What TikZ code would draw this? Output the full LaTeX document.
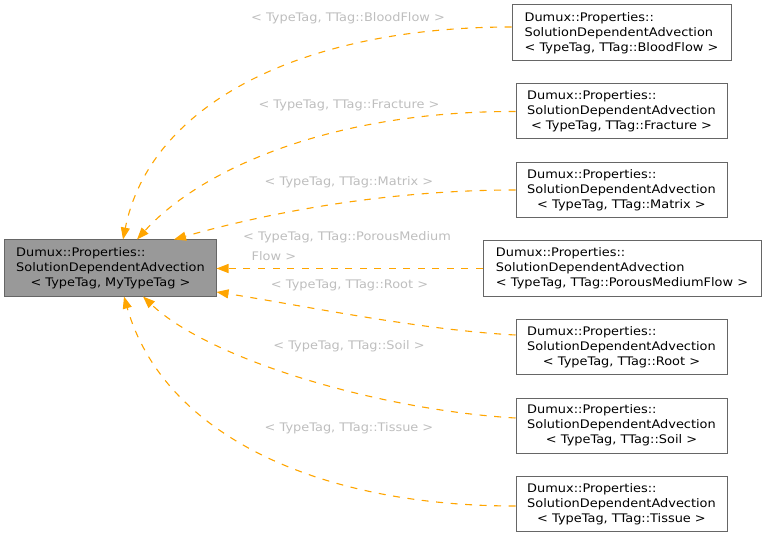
\documentclass[tikz,border=0pt]{standalone}
\usepackage{fontspec}
\setmainfont{DejaVu Sans}[FakeStretch=1.095]
\usetikzlibrary{arrows.meta}
\definecolor{edgeor}{HTML}{FFA500}
\definecolor{lblgray}{HTML}{BEBEBE}
\definecolor{bordergray}{HTML}{666666}
\definecolor{fillgray}{HTML}{999999}
\newdimen\dmxw
\newcommand\dmxlabel[1]{%
  \setbox0\hbox{SolutionDependentAdvection}\setbox2\hbox{#1}%
  \ifdim\wd0>\wd2 \global\dmxw=\wd0 \else\global\dmxw=\wd2 \fi
  \makebox[\dmxw][l]{Dumux::Properties::}\\\makebox[\dmxw][l]{SolutionDependentAdvection}\\#1}
\begin{document}
\begin{tikzpicture}[x=1bp,y=-1bp,
  every node/.style={font=\fontsize{11.8bp}{15bp}\selectfont, inner sep=0pt},
  box/.style={draw=bordergray, line width=1bp, align=center, minimum width=211bp, minimum height=55bp},
  lbl/.style={text=lblgray, anchor=base},
  lblw/.style={text=lblgray, anchor=base west},
  dep/.style={draw=edgeor, line width=1.1bp, dash pattern=on 7bp off 7.5bp,
    -{Triangle[length=12bp,width=9bp,fill=edgeor]}}]
\useasboundingbox (0,0) rectangle (767,537);

\node[box, fill=fillgray, minimum height=56bp] (main) at (110.5,268)
  {\dmxlabel{< TypeTag, MyTypeTag >}};

\node[box, minimum width=219bp, minimum height=56bp] (bf) at (621.5,33)
  {\dmxlabel{< TypeTag, TTag::BloodFlow >}};
\node[box] (fr) at (621.5,111.5)
  {\dmxlabel{< TypeTag, TTag::Fracture >}};
\node[box] (mx) at (621.5,190)
  {\dmxlabel{< TypeTag, TTag::Matrix >}};
\node[box, minimum width=278bp] (pmf) at (622,268.5)
  {\dmxlabel{< TypeTag, TTag::PorousMediumFlow >}};
\node[box] (rt) at (621.5,347)
  {\dmxlabel{< TypeTag, TTag::Root >}};
\node[box] (sl) at (621.5,425.5)
  {\dmxlabel{< TypeTag, TTag::Soil >}};
\node[box] (ts) at (621.5,504)
  {\dmxlabel{< TypeTag, TTag::Tissue >}};

\draw[dep] ([yshift=6bp]bf.west) .. controls (300,27) and (150,105) .. ([xshift=12.5bp]main.north);
\draw[dep] (fr.west) .. controls (330,111) and (200,170) .. ([xshift=26.5bp]main.north);
\draw[dep] (mx.west) .. controls (380,190) and (260,215) .. ([xshift=63.5bp]main.north);
\draw[dep] (pmf.west) -- (pmf.west -| main.east);
\draw[dep] ([yshift=12bp]rt.west) .. controls (420,330) and (300,305) .. ([yshift=-24bp]main.east);
\draw[dep] ([yshift=7.5bp]sl.west) .. controls (380,410) and (210,360) .. ([xshift=32.5bp]main.south);
\draw[dep] ([yshift=-2bp]ts.west) .. controls (310,506) and (162,430) .. ([xshift=13.5bp]main.south);

\node[lbl] (lbf) at (348,21.7) {< TypeTag, TTag::BloodFlow >};
\node[lbl] (lfr) at (349,109) {< TypeTag, TTag::Fracture >};
\node[lbl] (lmx) at (349,185.7) {< TypeTag, TTag::Matrix >};
\node[lblw] (lpmf) at (243,241) {< TypeTag, TTag::PorousMedium};
\node[lblw] (lpmfb) at (251.5,260.7) {Flow >};
\node[lbl] (lrt) at (349.5,289) {< TypeTag, TTag::Root >};
\node[lbl] (lsl) at (349,349.3) {< TypeTag, TTag::Soil >};
\node[lbl] (lts) at (349,431.7) {< TypeTag, TTag::Tissue >};
\end{tikzpicture}
\end{document}
